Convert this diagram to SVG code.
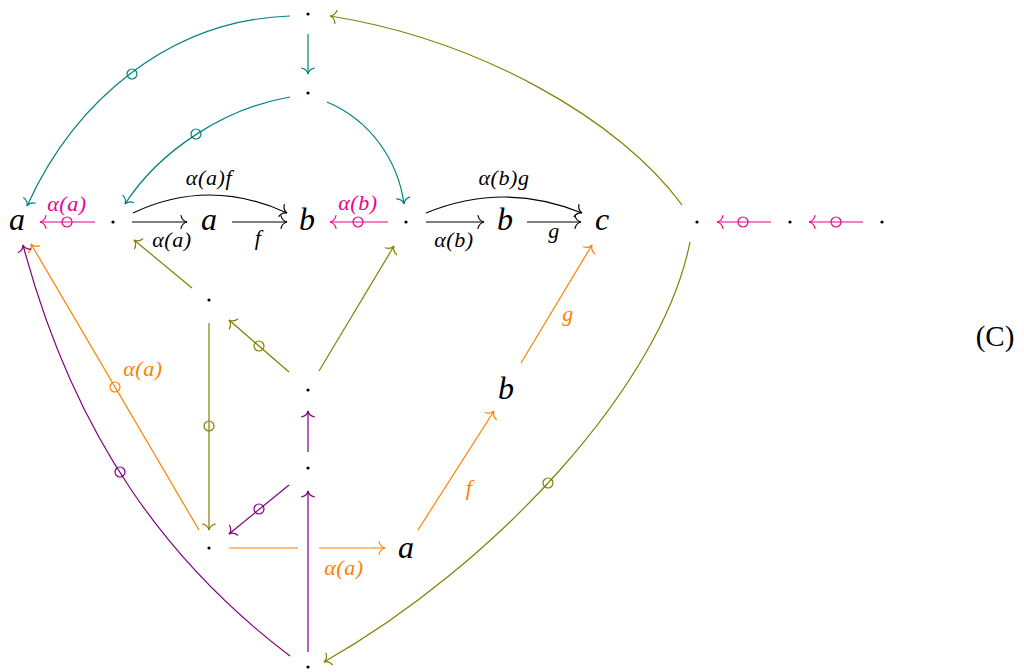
<svg xmlns="http://www.w3.org/2000/svg" width="1024" height="672" viewBox="0 0 1024 672">
<style>
.e{fill:none;stroke-width:1.2}
.k{stroke:#000}.t{stroke:#008080}.m{stroke:#ec008c}.o{stroke:#808000}.r{stroke:#ff8000}.p{stroke:#800080}
.n{font-family:"Liberation Serif",serif;font-style:italic;font-size:32px;text-anchor:middle;fill:#000}
.l{font-family:"Liberation Serif",serif;font-style:italic;font-size:22px;text-anchor:middle;letter-spacing:0.6px}
.dot{fill:#000}
.c{fill:none;stroke-width:1.2}
.ah{fill:none;stroke-width:1.2;stroke-linecap:round}
</style>
<defs>
<marker id="ak" markerUnits="userSpaceOnUse" markerWidth="16" markerHeight="16" viewBox="-11 -8 16 16" refX="0" refY="0" orient="auto"><path class="ah" d="M-6,-6.5 C-5.3,-3 -2.5,-0.6 0,0 C-2.5,0.6 -5.3,3 -6,6.5" stroke="#000"/></marker>
<marker id="at" markerUnits="userSpaceOnUse" markerWidth="16" markerHeight="16" viewBox="-11 -8 16 16" refX="0" refY="0" orient="auto"><path class="ah" d="M-6,-6.5 C-5.3,-3 -2.5,-0.6 0,0 C-2.5,0.6 -5.3,3 -6,6.5" stroke="#008080"/></marker>
<marker id="am" markerUnits="userSpaceOnUse" markerWidth="16" markerHeight="16" viewBox="-11 -8 16 16" refX="0" refY="0" orient="auto"><path class="ah" d="M-6,-6.5 C-5.3,-3 -2.5,-0.6 0,0 C-2.5,0.6 -5.3,3 -6,6.5" stroke="#ec008c"/></marker>
<marker id="ao" markerUnits="userSpaceOnUse" markerWidth="16" markerHeight="16" viewBox="-11 -8 16 16" refX="0" refY="0" orient="auto"><path class="ah" d="M-6,-6.5 C-5.3,-3 -2.5,-0.6 0,0 C-2.5,0.6 -5.3,3 -6,6.5" stroke="#808000"/></marker>
<marker id="ar" markerUnits="userSpaceOnUse" markerWidth="16" markerHeight="16" viewBox="-11 -8 16 16" refX="0" refY="0" orient="auto"><path class="ah" d="M-6,-6.5 C-5.3,-3 -2.5,-0.6 0,0 C-2.5,0.6 -5.3,3 -6,6.5" stroke="#ff8000"/></marker>
<marker id="ap" markerUnits="userSpaceOnUse" markerWidth="16" markerHeight="16" viewBox="-11 -8 16 16" refX="0" refY="0" orient="auto"><path class="ah" d="M-6,-6.5 C-5.3,-3 -2.5,-0.6 0,0 C-2.5,0.6 -5.3,3 -6,6.5" stroke="#800080"/></marker>
</defs>
<rect width="1024" height="672" fill="#fff"/>
<g id="connectors">
<!-- teal -->
<path class="e t" d="M290,16 C170,20 75,100 27,206" marker-end="url(#at)"/>
<circle class="c t" cx="132" cy="74" r="5"/>
<path class="e t" d="M308,34 V74" marker-end="url(#at)"/>
<path class="e t" d="M290,97 C225,108 160,150 125,204" marker-end="url(#at)"/>
<circle class="c t" cx="196" cy="134" r="5"/>
<path class="e t" d="M327,102 C370,120 398,160 404,204" marker-end="url(#at)"/>
<!-- magenta -->
<path class="e m" d="M95,222 H40" marker-end="url(#am)"/>
<circle class="c m" cx="67" cy="222" r="5"/>
<path class="e m" d="M388,222 H330" marker-end="url(#am)"/>
<circle class="c m" cx="358" cy="222" r="5"/>
<path class="e m" d="M771,222 H717" marker-end="url(#am)"/>
<circle class="c m" cx="743" cy="222" r="5"/>
<path class="e m" d="M863,222 H809" marker-end="url(#am)"/>
<circle class="c m" cx="836" cy="222" r="5"/>
<!-- black -->
<path class="e k" d="M132,222 H187" marker-end="url(#ak)"/>
<path class="e k" d="M232,222 H287" marker-end="url(#ak)"/>
<path class="e k" d="M133,213 Q209,177 287,213" marker-end="url(#ak)"/>
<path class="e k" d="M426,222 H484" marker-end="url(#ak)"/>
<path class="e k" d="M527,222 H581" marker-end="url(#ak)"/>
<path class="e k" d="M426,213 Q504,181 582,213" marker-end="url(#ak)"/>
<!-- olive -->
<path class="e o" d="M682,205 C620,120 480,40 330,16" marker-end="url(#ao)"/>
<path class="e o" d="M690,242 C662,385 495,565 324,662" marker-end="url(#ao)"/>
<circle class="c o" cx="548" cy="483" r="5"/>
<path class="e o" d="M192,288 L134,240" marker-end="url(#ao)"/>
<path class="e o" d="M209,323 V530" marker-end="url(#ao)"/>
<circle class="c o" cx="209" cy="426" r="5"/>
<path class="e o" d="M289,372 L229,320" marker-end="url(#ao)"/>
<circle class="c o" cx="259" cy="346" r="5"/>
<path class="e o" d="M319,371 L394,246" marker-end="url(#ao)"/>
<!-- orange -->
<path class="e r" d="M229,548 H298"/>
<path class="e r" d="M319,548 H385" marker-end="url(#ar)"/>
<path class="e r" d="M418,530 L494,411" marker-end="url(#ar)"/>
<path class="e r" d="M521,363 L592,245" marker-end="url(#ar)"/>
<path class="e r" d="M199,530 L31,244" marker-end="url(#ar)"/>
<circle class="c r" cx="115" cy="387" r="5"/>
<!-- purple -->
<path class="e p" d="M308,452 V411" marker-end="url(#ap)"/>
<path class="e p" d="M308,652 V491" marker-end="url(#ap)"/>
<path class="e p" d="M289,485 L229,534" marker-end="url(#ap)"/>
<circle class="c p" cx="259" cy="509" r="5"/>
<path class="e p" d="M290,656 C170,565 75,440 23,245" marker-end="url(#ap)"/>
<circle class="c p" cx="120" cy="472" r="5"/>
<!-- labels -->
<text class="l" x="67" y="211" fill="#ec008c">α(a)</text>
<text class="l" x="358" y="210" fill="#ec008c">α(b)</text>
<text class="l" x="209" y="185" fill="#000">α(a)f</text>
<text class="l" x="172" y="247" fill="#000">α(a)</text>
<text class="l" x="258" y="245" fill="#000">f</text>
<text class="l" x="504" y="185" fill="#000">α(b)g</text>
<text class="l" x="454" y="247" fill="#000">α(b)</text>
<text class="l" x="554" y="238" fill="#000">g</text>
<text class="l" x="143" y="376" fill="#ff8000">α(a)</text>
<text class="l" x="344" y="575" fill="#ff8000">α(a)</text>
<text class="l" x="469" y="495" fill="#ff8000">f</text>
<text class="l" x="568" y="321" fill="#ff8000">g</text>
</g>
<g id="n-t1"><circle class="dot" cx="308" cy="14" r="1.6"/></g>
<g id="n-t2"><circle class="dot" cx="308" cy="93" r="1.6"/></g>
<g id="n-a1"><text class="n" x="17" y="230">a</text></g>
<g id="n-d1"><circle class="dot" cx="113" cy="222" r="1.6"/></g>
<g id="n-a2"><text class="n" x="209" y="230">a</text></g>
<g id="n-b1"><text class="n" x="307" y="230">b</text></g>
<g id="n-d2"><circle class="dot" cx="406" cy="222" r="1.6"/></g>
<g id="n-b2"><text class="n" x="505" y="230">b</text></g>
<g id="n-c"><text class="n" x="602" y="230">c</text></g>
<g id="n-r1"><circle class="dot" cx="697" cy="222" r="1.6"/></g>
<g id="n-r2"><circle class="dot" cx="790" cy="222" r="1.6"/></g>
<g id="n-r3"><circle class="dot" cx="882" cy="222" r="1.6"/></g>
<g id="n-m1"><circle class="dot" cx="209" cy="300" r="1.6"/></g>
<g id="n-m2"><circle class="dot" cx="308" cy="390" r="1.6"/></g>
<g id="n-b3"><text class="n" x="506" y="399">b</text></g>
<g id="n-m3"><circle class="dot" cx="308" cy="468" r="1.6"/></g>
<g id="n-m4"><circle class="dot" cx="209" cy="548" r="1.6"/></g>
<g id="n-a3"><text class="n" x="406" y="558">a</text></g>
<g id="n-bot"><circle class="dot" cx="308" cy="667" r="1.6"/></g>
<g id="tag"><text x="995" y="346" font-family="Liberation Serif, serif" font-size="29" text-anchor="middle" fill="#000">(C)</text></g>
</svg>
